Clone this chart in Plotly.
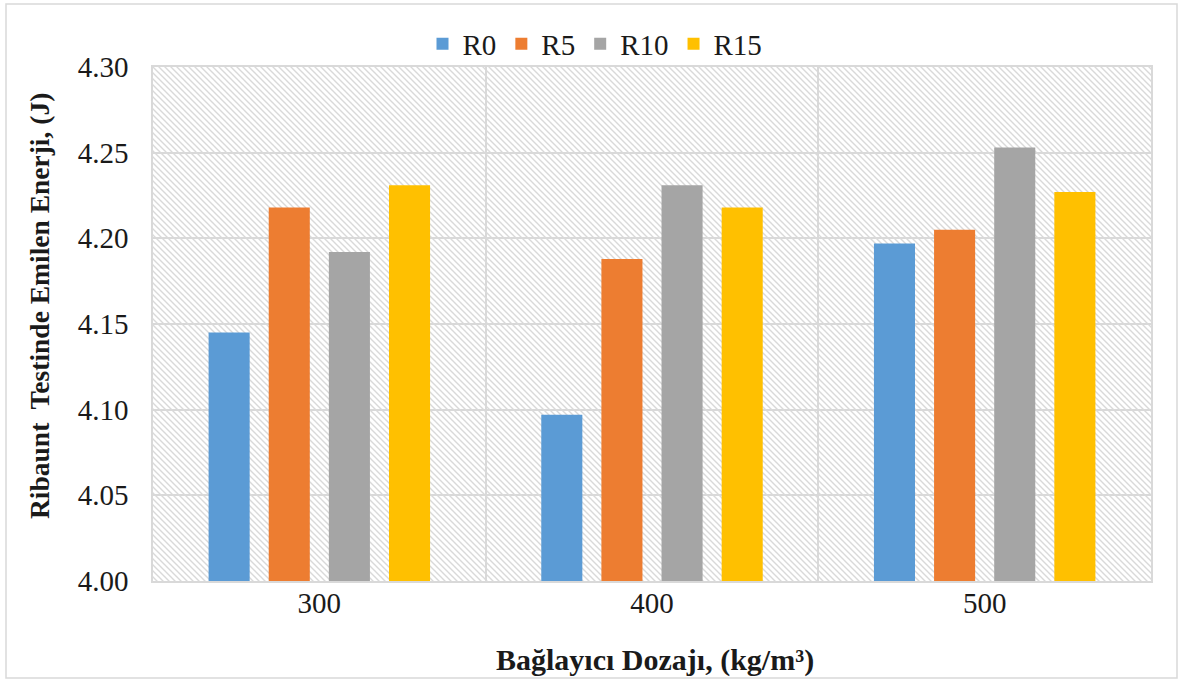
import base64
import plotly.graph_objects as go

# Binder dosage groups and absorbed energy per series (J)
dosages = ["300", "400", "500"]
series_names = ["R0", "R5", "R10", "R15"]
r0 = [4.145, 4.097, 4.197]
r5 = [4.218, 4.188, 4.205]
r10 = [4.192, 4.231, 4.253]
r15 = [4.231, 4.218, 4.227]
y_ticks = [4.00, 4.05, 4.10, 4.15, 4.20, 4.25, 4.30]

series_values = [r0, r5, r10, r15]
colors = ["#5B9BD5", "#ED7D31", "#A5A5A5", "#FFC000"]

W, H = 1178, 680
ML, MR, MT, MB = 153, 27, 67, 99
PW, PH = W - ML - MR, H - MT - MB

FONT = "Liberation Serif"
TEXT = "#1a1a1a"

fig = go.Figure()
for name, vals, col in zip(series_names, series_values, colors):
    fig.add_trace(go.Bar(
        name=name, x=dosages, y=vals,
        marker=dict(color=col, line=dict(width=0)),
    ))

# Diagonal hatch fill behind the plot area
step = 6
svg = (
    f'<svg xmlns="http://www.w3.org/2000/svg" width="{PW}" height="{PH}">'
    f'<defs><pattern id="h" patternUnits="userSpaceOnUse" width="{step}" height="{step}">'
    f'<path d="M-1,-1 L{step+1},{step+1} M-1,{step-1} L1,{step+1} M{step-1},-1 L{step+1},1" '
    f'stroke="#d9d9d9" stroke-width="1.4"/></pattern></defs>'
    f'<rect width="{PW}" height="{PH}" fill="url(#h)"/></svg>'
)
src = "data:image/svg+xml;base64," + base64.b64encode(svg.encode()).decode()

def px_x(p):
    return (p - ML) / PW

def px_y(p):
    return (H - MB - p) / PH

fig.update_layout(
    width=W, height=H,
    margin=dict(l=ML, r=MR, t=MT, b=MB, pad=0),
    paper_bgcolor="white",
    plot_bgcolor="rgba(0,0,0,0)",
    font=dict(family=FONT, size=29, color=TEXT),
    barmode="group",
    bargap=0.277,
    bargroupgap=0.317,
    images=[dict(
        source=src, xref="paper", yref="paper", x=0, y=1,
        sizex=1, sizey=1, xanchor="left", yanchor="top",
        sizing="stretch", layer="below",
    )],
    legend=dict(
        orientation="h", x=px_x(595), xanchor="center", y=px_y(44), yanchor="middle",
        font=dict(family=FONT, size=29, color=TEXT),
        bgcolor="rgba(0,0,0,0)", itemwidth=30, tracegroupgap=0,
    ),
    xaxis=dict(
        type="category", tickson="boundaries", showgrid=True,
        gridcolor="#d9d9d9", gridwidth=1.5,
        showline=True, linecolor="#d9d9d9", linewidth=1.5, mirror=True,
        ticks="", ticklabelstandoff=-5,
        tickfont=dict(family=FONT, size=29, color=TEXT),
    ),
    yaxis=dict(
        range=[4.00, 4.30], tickvals=y_ticks, tickformat=".2f",
        showgrid=True, gridcolor="#d9d9d9", gridwidth=1.5,
        showline=True, linecolor="#d9d9d9", linewidth=1.5, mirror=True,
        ticks="", ticklabelstandoff=17, zeroline=False,
        tickfont=dict(family=FONT, size=29, color=TEXT),
    ),
    shapes=[dict(
        type="rect", xref="paper", yref="paper",
        x0=px_x(6), x1=px_x(1177), y0=px_y(678), y1=px_y(4),
        line=dict(color="#d9d9d9", width=1.5), fillcolor="rgba(0,0,0,0)",
        layer="below",
    )],
    annotations=[
        dict(
            text="<b>Ribaunt\u00a0 Testinde Emilen Enerji, (J)</b>",
            xref="paper", yref="paper", x=px_x(39), y=px_y(306),
            xanchor="center", yanchor="middle", textangle=-90, showarrow=False,
            font=dict(family=FONT, size=27.5, color=TEXT),
        ),
        dict(
            text="<b>Bağlayıcı Dozajı, (kg/m³)</b>",
            xref="paper", yref="paper", x=px_x(655), y=px_y(660),
            xanchor="center", yanchor="middle", showarrow=False,
            font=dict(family=FONT, size=30, color=TEXT),
        ),
    ],
)

fig.write_html("out.html")
